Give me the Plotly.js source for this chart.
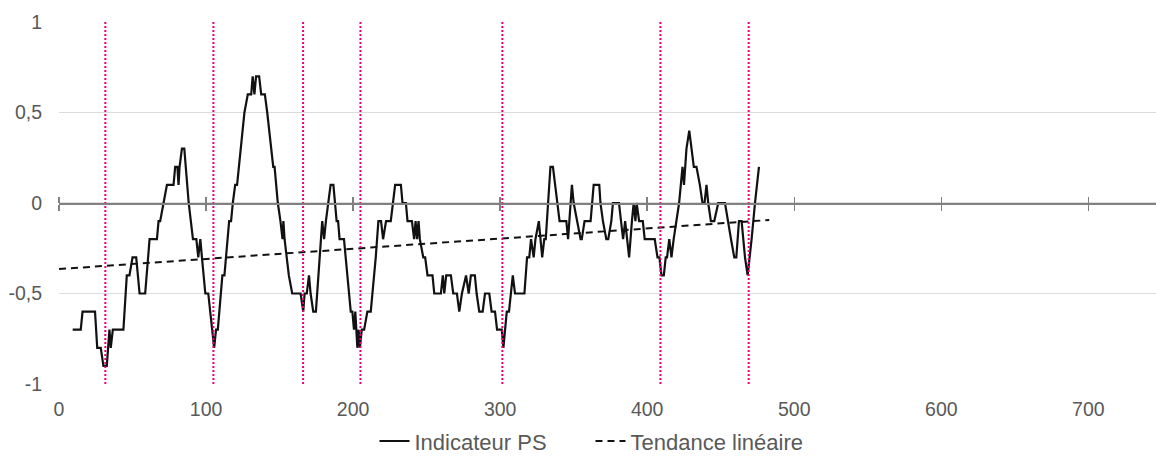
<!DOCTYPE html>
<html>
<head>
<meta charset="utf-8">
<script src="https://cdn.plot.ly/plotly-3.0.1.min.js"></script>
<style>html,body{margin:0;padding:0;background:#fff}#chart{width:1156px;height:463px}</style>
</head>
<body>
<div id="chart"></div>
<script>
// Indicateur PS (turning points)
const psX = [9.3,14.8,16,24.5,26,28.4,30.2,32.5,34.3,35.2,36.6,43.8,46.1,47.9,50,52.5,54.8,58.6,61.6,66.6,67.7,68.8,71.1,73.4,77.9,79,80.5,81.3,82,83.6,85.2,88.2,91.1,93.4,94.7,96.1,97.2,99.5,101.5,104,105.5,106.8,108,111.1,112.5,115.7,117,118.2,119.8,121.1,126.1,128.4,130.7,131.7,132.9,134,136.1,137.5,140,141.6,145.7,146.6,148.8,150.6,152,152.6,153.4,156.3,158.6,164.3,166.1,167,168.5,170,171.1,172.9,174.7,179,180.3,181.5,184.7,186.6,188.8,189.8,190.8,193.8,198.4,199.5,200.6,201.5,202.9,203.8,204.6,205.9,207.5,209.7,212,215.4,217.2,219,220.4,222.4,225.6,228.6,232.5,233.6,235.9,237,240,241.5,242.5,243.5,244.5,245.4,247.7,249,250.6,254,255.2,259.7,261,262,263.3,266.5,268.1,270.6,272.2,274,276.8,278.6,280.1,282.8,284,285.8,288.1,289.7,292.6,294.2,296.5,297.9,301.1,302.2,304.5,306,308.6,310.1,316.5,318.3,319.8,321,322.8,324,326.3,328.6,330,331,332.5,334.2,335.9,338.8,340.4,345,346.2,348.8,350,354.7,355.5,357.4,361.5,363.6,367.4,368.2,369.9,372.2,373.5,375.6,376.7,380.8,383.6,385,387.7,389.6,390.8,392,392.8,394.5,397,398.3,405.1,407,408.3,409.7,411.3,412.6,413.5,415,416.5,418,419.9,421.7,424,425,426.7,428.6,431.7,433.5,435.8,437.6,439,440.3,441.5,443.3,445.6,448.3,452.9,454.7,457,459.2,460.6,462.4,464.2,466.5,468.3,471,472,473.3,476];
const psY = [-0.7,-0.7,-0.6,-0.6,-0.8,-0.8,-0.9,-0.9,-0.7,-0.8,-0.7,-0.7,-0.4,-0.4,-0.3,-0.3,-0.5,-0.5,-0.2,-0.2,-0.1,-0.1,0,0.1,0.1,0.2,0.2,0.1,0.2,0.3,0.3,0,-0.2,-0.2,-0.3,-0.2,-0.3,-0.5,-0.5,-0.7,-0.8,-0.7,-0.7,-0.4,-0.4,-0.1,-0.1,0,0.1,0.1,0.5,0.6,0.6,0.7,0.6,0.7,0.7,0.6,0.6,0.5,0.2,0.2,0,-0.1,-0.2,-0.1,-0.2,-0.4,-0.5,-0.5,-0.6,-0.5,-0.5,-0.4,-0.5,-0.6,-0.6,-0.1,-0.2,-0.1,0.1,0.1,-0.1,-0.1,-0.2,-0.2,-0.6,-0.6,-0.7,-0.6,-0.8,-0.7,-0.8,-0.7,-0.7,-0.6,-0.6,-0.3,-0.1,-0.1,-0.2,-0.1,-0.1,0.1,0.1,0,0,-0.1,-0.1,-0.2,-0.1,-0.2,-0.1,-0.2,-0.3,-0.3,-0.4,-0.4,-0.5,-0.5,-0.4,-0.5,-0.4,-0.4,-0.5,-0.5,-0.6,-0.5,-0.4,-0.5,-0.4,-0.4,-0.5,-0.6,-0.6,-0.5,-0.5,-0.6,-0.6,-0.7,-0.7,-0.8,-0.6,-0.6,-0.4,-0.5,-0.5,-0.3,-0.3,-0.2,-0.3,-0.2,-0.1,-0.3,-0.2,-0.2,0,0.2,0.2,0,-0.1,-0.1,-0.2,0.1,0,-0.2,-0.2,-0.1,-0.1,0.1,0.1,0,-0.1,-0.2,-0.2,-0.1,0,0,-0.2,-0.1,-0.3,-0.1,0,-0.1,0,-0.1,-0.1,-0.2,-0.2,-0.3,-0.3,-0.4,-0.4,-0.3,-0.3,-0.2,-0.3,-0.2,-0.1,0,0.2,0.1,0.3,0.4,0.2,0.2,0.1,0,0,0.1,0,-0.1,-0.1,0,0,-0.1,-0.2,-0.3,-0.3,-0.1,-0.1,-0.3,-0.4,-0.2,-0.1,0,0.2];

// Tendance linéaire (end points)
const trendX = [0, 483];
const trendY = [-0.365, -0.094];

// Vertical markers (magenta dotted), spanning the full y range
const markerX = [31.5, 105, 166, 205, 301.5, 409, 469];
const markerSpan = [-1, 1];

// Axis ticks
const xTickVals = [0,100,200,300,400,500,600,700];
const yTickVals = [-1,-0.5,0,0.5,1];
const yTickText = ['-1','-0,5','0','0,5','1'];

const grey = '#595959';
const font = 'Liberation Sans, Arial, Helvetica, sans-serif';

// build marker trace (segments separated by null)
const mX = [], mY = [];
markerX.forEach(v => { mX.push(v, v, null); mY.push(markerSpan[0], markerSpan[1], null); });

const traces = [
  {x: mX, y: mY, type: 'scatter', mode: 'lines', xaxis: 'x3', showlegend: false, hoverinfo: 'skip',
   line: {color: '#E6007E', width: 2, dash: '2px,2px'}},
  {x: psX, y: psY, type: 'scatter', mode: 'lines', name: 'Indicateur PS',
   line: {color: '#111111', width: 2.2}},
  {x: trendX, y: trendY, type: 'scatter', mode: 'lines', name: 'Tendance linéaire', xaxis: 'x2',
   line: {color: '#111111', width: 2, dash: '7px,5px'}}
];

const axBase = {range: [0, 746], showgrid: false, zeroline: false, fixedrange: true};

const layout = {
  width: 1156, height: 463,
  margin: {l: 59, r: 0, t: 22, b: 79},
  paper_bgcolor: '#fff', plot_bgcolor: '#fff',
  font: {family: font, color: grey, size: 19.5},
  showlegend: true,
  legend: {orientation: 'h', x: 0.4845, xanchor: 'center', y: -0.158, yanchor: 'middle',
           font: {size: 22, color: grey}, entrywidth: 171, traceorder: 'normal'},
  xaxis: Object.assign({}, axBase, {tickvals: xTickVals, ticks: '', showline: false,
           ticklabelstandoff: 11, tickfont: {size: 19.5, color: grey}}),
  xaxis2: Object.assign({}, axBase, {overlaying: 'x', matches: 'x', anchor: 'free', position: 0.5,
           side: 'bottom', tickvals: xTickVals, ticks: 'outside', ticklen: 6, tickwidth: 1.5,
           tickcolor: '#808080', showline: true, linecolor: '#808080', linewidth: 1.5,
           showticklabels: false}),
  xaxis3: Object.assign({}, axBase, {overlaying: 'x', matches: 'x', anchor: 'free', position: 0.5,
           side: 'top', tickvals: xTickVals, ticks: 'outside', ticklen: 6, tickwidth: 1.5,
           tickcolor: '#808080', showline: false, showticklabels: false}),
  yaxis: {range: [-1, 1], tickvals: yTickVals, ticktext: yTickText, showgrid: true,
          gridcolor: '#dcdcdc', gridwidth: 1.5, zeroline: false, showline: false, ticks: '',
          ticklabelstandoff: 16, tickfont: {size: 19.5, color: grey}, fixedrange: true}
};

Plotly.newPlot('chart', traces, layout, {displayModeBar: false, staticPlot: true});
</script>
</body>
</html>
